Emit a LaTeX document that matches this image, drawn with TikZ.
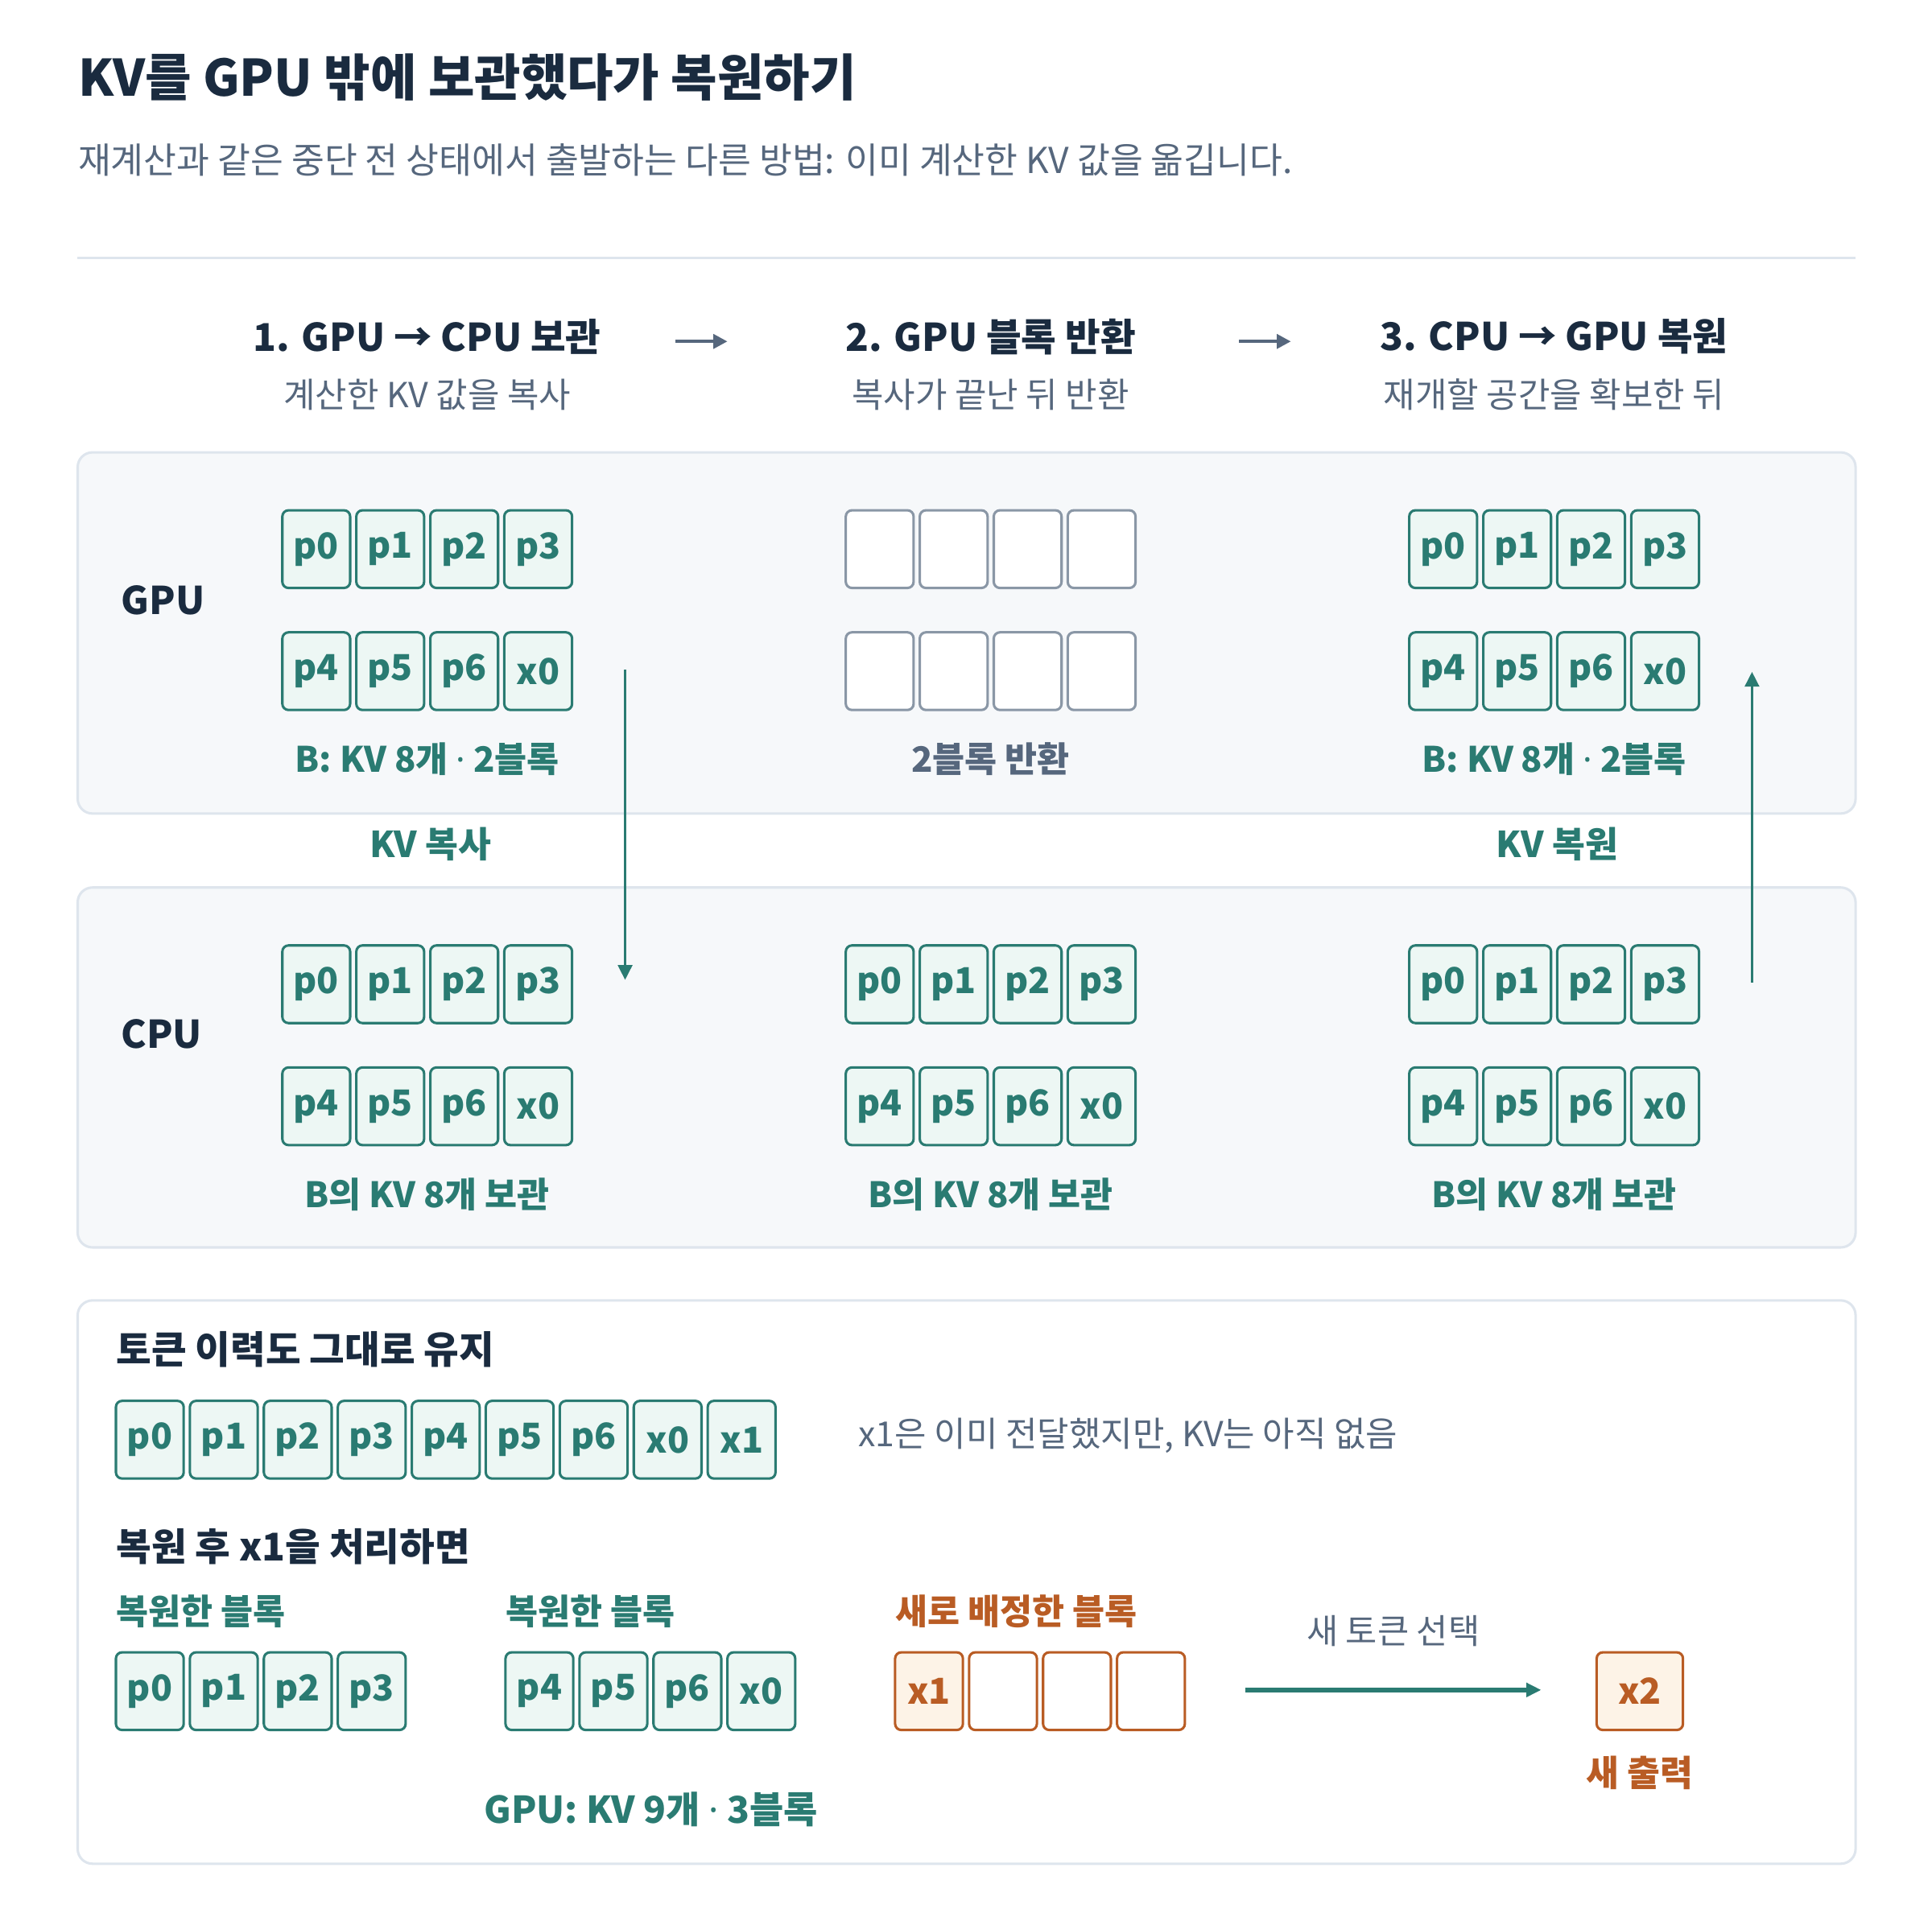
\documentclass[tikz,border=0pt]{standalone}
\usepackage{fontspec}
\setmainfont{Noto Sans CJK KR}
\newfontfamily\dotfont{Noto Sans}
\usetikzlibrary{arrows.meta}
\definecolor{ink}{HTML}{1A2B3F}
\definecolor{slate}{HTML}{56677D}
\definecolor{kvteal}{HTML}{2A7B72}
\definecolor{mint}{HTML}{EDF7F4}
\definecolor{panelbg}{HTML}{F6F8FA}
\definecolor{edge}{HTML}{DEE5ED}
\definecolor{holegray}{HTML}{8A97A6}
\definecolor{rust}{HTML}{B95C24}
\definecolor{peach}{HTML}{FDF3E7}
\begin{document}
\begin{tikzpicture}[x=0.5pt,y=0.5pt,
    title/.style={anchor=west,inner xsep=0pt,text=ink,font=\bfseries\fontsize{20.4}{24}\selectfont},
    note/.style={text=slate,font=\fontsize{14}{17}\selectfont},
    head/.style={text=ink,font=\bfseries\fontsize{15.5}{19}\selectfont},
    tag/.style={text=kvteal,font=\bfseries\fontsize{14.2}{17}\selectfont},
    cell/.style={draw=kvteal,fill=mint,text=kvteal,line width=1pt,rounded corners=2.5pt,
        minimum width=27.5pt,minimum height=31.5pt,inner sep=0pt,
        font=\bfseries\fontsize{14.5}{17}\selectfont},
    hole/.style={cell,draw=holegray,fill=white},
    newcell/.style={cell,draw=rust,fill=peach,text=rust},
    panel/.style={draw=edge,line width=1pt,rounded corners=6pt},
    steparrow/.style={draw=slate,line width=1.4pt,-{Triangle[length=5.7pt,width=5.7pt]}},
    flow/.style={draw=kvteal,line width=1.2pt,-{Triangle[length=6pt,width=5.7pt]}}]
    \useasboundingbox (0,0) rectangle (1567,-1551.4);
    %% title
    \node[title] (title) at (63,-63) {KV를 GPU 밖에 보관했다가 복원하기};
    \node[note,anchor=west,inner xsep=0pt,font=\fontsize{14.5}{17}\selectfont] (subtitle) at (63,-130) {재계산과 같은 중단 전 상태에서 출발하는 다른 방법: 이미 계산한 KV 값을 옮깁니다.};
    \draw[edge,line width=1pt] (63,-209) -- (1505,-209);
    %% steps
    \foreach \x/\n/\h/\s in {346.5/1/{1. GPU → CPU 보관}/{계산한 KV 값을 복사},
                             803.5/2/{2. GPU 블록 반환}/{복사가 끝난 뒤 반환},
                             1260.5/3/{3. CPU → GPU 복원}/{재개할 공간을 확보한 뒤}} {
        \node[head] (step\n) at (\x,-273) {\h};
        \node[note] (stepsub\n) at (\x,-320) {\s};
    }
    \coordinate (go1a) at (548,-277); \coordinate (go1b) at (590,-277);
    \coordinate (go2a) at (1005,-277); \coordinate (go2b) at (1047,-277);
    \draw[steparrow] (go1a) -- (go1b);
    \draw[steparrow] (go2a) -- (go2b);
    %% panels
    \draw[panel,fill=panelbg] (63,-367) rectangle (1505,-660);
    \draw[panel,fill=panelbg] (63,-720) rectangle (1505,-1012);
    \draw[panel,fill=white] (63,-1055) rectangle (1505,-1512);
    \node[head,anchor=west,inner xsep=0pt] (gpu) at (98,-487) {GPU};
    \node[head,anchor=west,inner xsep=0pt] (cpu) at (98,-839) {CPU};
    %% gpu blocks
    \foreach \c/\g in {346.5/a,1260.5/c} {
        \foreach \t [count=\i] in {p0,p1,p2,p3}
            \node[cell] (gpu\g top\i) at (\c-150+60*\i,-445.5) {\t};
        \foreach \t [count=\i] in {p4,p5,p6,x0}
            \node[cell] (gpu\g bot\i) at (\c-150+60*\i,-544.5) {\t};
    }
    \foreach \i in {1,...,4} {
        \node[hole] (gpubtop\i) at (803.5-150+60*\i,-445.5) {};
        \node[hole] (gpubbot\i) at (803.5-150+60*\i,-544.5) {};
    }
    \node[tag] (gpuatag) at (346.5,-616) {B: KV 8개 {\dotfont ·} 2블록};
    \node[tag,text=slate] (gpubtag) at (803.5,-616) {2블록 반환};
    \node[tag] (gpuctag) at (1260.5,-616) {B: KV 8개 {\dotfont ·} 2블록};
    %% cpu blocks
    \foreach \c/\g in {346.5/a,803.5/b,1260.5/c} {
        \foreach \t [count=\i] in {p0,p1,p2,p3}
            \node[cell] (cpu\g top\i) at (\c-150+60*\i,-798.5) {\t};
        \foreach \t [count=\i] in {p4,p5,p6,x0}
            \node[cell] (cpu\g bot\i) at (\c-150+60*\i,-897.5) {\t};
        \node[tag] (cpu\g tag) at (\c,-969) {B의 KV 8개 보관};
    }
    %% copy and restore
    \node[tag,font=\bfseries\fontsize{14.5}{17}\selectfont] (copytag) at (349,-685) {KV 복사};
    \node[tag,font=\bfseries\fontsize{14.5}{17}\selectfont] (backtag) at (1263,-685) {KV 복원};
    \coordinate (copya) at (507,-543); \coordinate (copyb) at (507,-795);
    \coordinate (backa) at (1421,-797); \coordinate (backb) at (1421,-545);
    \draw[flow] (copya) -- (copyb);
    \draw[flow] (backa) -- (backb);
    %% token history
    \node[head,anchor=west,inner xsep=0pt] (histhead) at (94,-1095) {토큰 이력도 그대로 유지};
    \foreach \t [count=\i] in {p0,p1,p2,p3,p4,p5,p6,x0,x1}
        \node[cell] (hist\i) at (61.5+60*\i,-1168) {\t};
    \node[note,anchor=west,inner xsep=0pt] (histnote) at (696,-1165) {x1은 이미 전달했지만, KV는 아직 없음};
    %% after restore
    \node[head,anchor=west,inner xsep=0pt] (afterhead) at (94,-1255) {복원 후 x1을 처리하면};
    \node[tag,anchor=west,inner xsep=0pt] (resttag1) at (94,-1307) {복원한 블록};
    \node[tag,anchor=west,inner xsep=0pt] (resttag2) at (410,-1307) {복원한 블록};
    \node[tag,anchor=west,inner xsep=0pt,text=rust] (newtag) at (726,-1307) {새로 배정한 블록};
    \foreach \t [count=\i] in {p0,p1,p2,p3}
        \node[cell] (rest1\i) at (61.5+60*\i,-1372) {\t};
    \foreach \t [count=\i] in {p4,p5,p6,x0}
        \node[cell] (rest2\i) at (377.5+60*\i,-1372) {\t};
    \node[newcell] (new1) at (753.5,-1372) {x1};
    \foreach \i in {2,3,4}
        \node[newcell,fill=white] (new\i) at (693.5+60*\i,-1372) {};
    \node[newcell,minimum width=35pt] (out) at (1330,-1372) {x2};
    \node[note,font=\fontsize{13.9}{17}\selectfont] (picknote) at (1130,-1323) {새 토큰 선택};
    \coordinate (picka) at (1010,-1371); \coordinate (pickb) at (1250,-1371);
    \draw[flow,line width=1.75pt,-{Triangle[length=6pt,width=5.5pt]}] (picka) -- (pickb);
    \node[tag,text=rust,font=\bfseries\fontsize{14.5}{17}\selectfont] (outtag) at (1330,-1438) {새 출력};
    \node[tag,font=\bfseries\fontsize{15}{18}\selectfont] (sumtag) at (528,-1468) {GPU: KV 9개 {\dotfont ·} 3블록};
\end{tikzpicture}
\end{document}
